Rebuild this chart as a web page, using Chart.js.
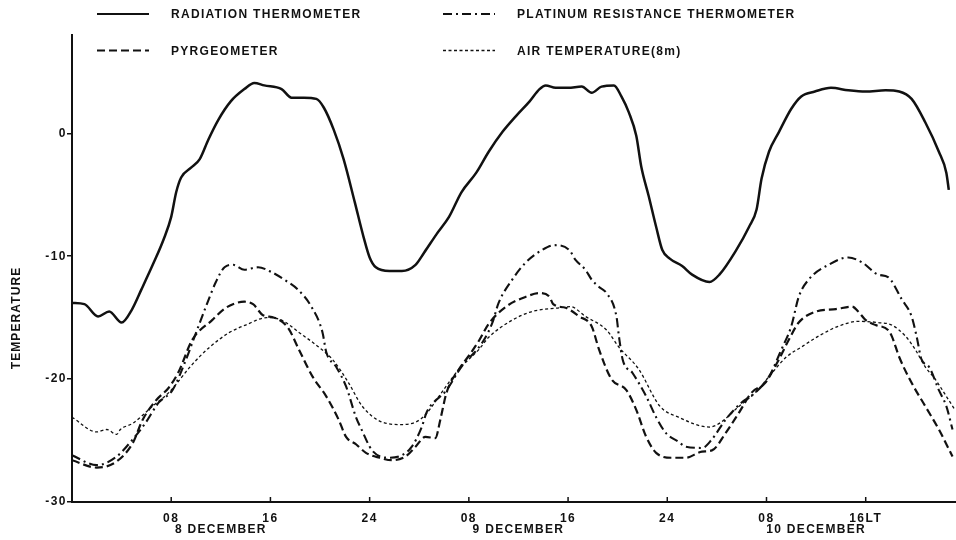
<!DOCTYPE html>
<html>
<head>
<meta charset="utf-8">
<script src="https://cdn.jsdelivr.net/npm/chart.js@4.4.1/dist/chart.umd.min.js"></script>
<style>
  html, body { margin: 0; padding: 0; background: #fff; }
  canvas { display: block; }
</style>
</head>
<body>
<canvas id="c" width="956" height="540"></canvas>
<script>
// ---- data (hours from 00 LT, 8 December; temperature in deg C) ----
const seriesLabels = ['RADIATION THERMOMETER', 'PLATINUM RESISTANCE THERMOMETER', 'PYRGEOMETER', 'AIR TEMPERATURE(8m)'];

const radHours = [0,1,2.1,3,4,4.8,5.6,6.6,7.4,8,8.4,8.8,9.6,10.3,11,11.8,12.8,13.9,14.7,15.5,16.9,17.7,18.7,19.7,20.3,21.1,21.9,22.8,23.5,24,24.5,25.6,26.6,27.7,28.4,29.4,30.4,31.4,32.6,33.6,34.7,35.8,36.9,37.7,38.2,39,40,41.1,41.9,42.7,43.7,44.3,44.9,45.5,45.9,46.5,47.1,47.6,48.2,49.2,50,51.4,52.2,53.5,54.6,55.2,55.6,56.2,57,58,58.8,59.9,61.2,62.6,64,65.6,66.7,67.7,68.8,69.9,70.5,70.7];
const radTemp = [-13.8,-13.9,-14.9,-14.5,-15.4,-14.4,-12.7,-10.5,-8.6,-6.8,-4.8,-3.6,-2.8,-2.1,-0.5,1.1,2.6,3.6,4.1,3.9,3.6,2.9,2.9,2.8,2.1,0.3,-2.1,-5.6,-8.4,-10.1,-10.9,-11.2,-11.2,-10.7,-9.7,-8.2,-6.8,-4.8,-3.2,-1.5,0.1,1.4,2.6,3.6,3.9,3.7,3.7,3.8,3.3,3.8,3.9,3.0,1.7,-0.2,-2.7,-5.1,-7.6,-9.5,-10.2,-10.8,-11.5,-12.1,-11.5,-9.6,-7.6,-6.2,-3.7,-1.5,0.1,2.0,3.0,3.4,3.7,3.5,3.4,3.5,3.4,2.8,0.9,-1.5,-3.2,-4.6];

const platHours = [0,2,3.6,4.9,5.9,7,8.1,9.2,9.9,10.8,11.6,12.3,13,13.9,15,16.1,17.1,18.2,19.3,20.2,20.5,21.3,22.1,22.9,23.3,24.2,25.6,26.6,27.4,28.2,28.6,30.2,31.4,33.1,33.9,34.4,35.5,36.6,37.9,38.9,40.1,40.6,41.4,41.9,42.5,43.1,43.9,44.1,44.4,45.2,46.3,47.1,47.9,48.9,49.5,50.8,51.6,52.7,54,55.1,56.2,57.2,58,58.6,59.4,61,62.6,63.7,65,65.8,66.9,67.7,68.1,68.5,69.1,69.9,70.5,71];
const platTemp = [-26.2,-27.0,-26.3,-24.9,-23.6,-21.9,-20.9,-18.4,-16.5,-14.1,-12.1,-10.9,-10.7,-11.1,-10.9,-11.3,-11.9,-12.7,-14.1,-16.2,-17.8,-19.0,-20.6,-23.1,-24.0,-25.8,-26.4,-26.2,-25.5,-23.9,-22.7,-20.9,-19.0,-17.0,-15.4,-13.8,-11.9,-10.5,-9.5,-9.1,-9.5,-10.3,-11.1,-11.9,-12.5,-13.0,-14.9,-16.5,-18.4,-19.5,-21.4,-23.1,-24.4,-25.1,-25.5,-25.6,-24.9,-23.3,-21.9,-21.1,-19.8,-17.6,-15.7,-13.3,-11.9,-10.7,-10.1,-10.5,-11.5,-11.7,-13.5,-14.9,-16.5,-18.4,-19.0,-20.9,-22.2,-24.1];

const pyrHours = [0,2,3.6,4.9,5.7,6.8,7.8,8.6,9.7,11.3,12.4,13.9,14.6,15.4,16.3,17.4,18.3,19.4,20.5,21.5,22.1,22.9,23.7,24.8,25.8,26.9,27.7,28.5,29.3,29.7,30.2,31.2,32,32.8,33.6,35,36.6,37.7,38.5,38.8,39.8,40.9,41.9,42.5,43.5,44.7,45.5,46.3,47.1,48.4,49.5,50.8,51.6,52.7,53.8,54.8,55.9,57,57.8,58.6,60,61.6,62.9,63.4,64,64.8,65.8,66.1,66.7,67.7,68.8,69.9,71];
const pyrTemp = [-26.6,-27.2,-26.7,-25.2,-23.3,-21.7,-20.7,-19.4,-16.8,-15.2,-14.2,-13.7,-13.9,-14.8,-15.0,-15.8,-17.6,-19.8,-21.4,-23.3,-24.7,-25.3,-26.0,-26.4,-26.6,-26.3,-25.5,-24.7,-24.8,-23.3,-21.1,-19.2,-18.1,-16.9,-15.5,-14.1,-13.3,-13.0,-13.3,-13.9,-14.2,-14.9,-15.7,-17.6,-20.0,-20.9,-22.5,-24.7,-26.0,-26.4,-26.4,-25.9,-25.8,-24.4,-22.7,-21.1,-20.3,-18.4,-16.8,-15.4,-14.5,-14.3,-14.1,-14.5,-15.2,-15.6,-16.0,-16.5,-18.2,-20.3,-22.2,-24.1,-26.3];

const airHours = [0,2,2.8,3.6,3.9,4.9,6.5,7.8,9.7,11.1,12.7,14,15.7,16.9,18.3,19.9,21,22.3,23.4,25,26.6,27.7,28.5,29.8,31.2,32.8,33.6,35.5,37.1,39.3,40.2,41.4,43.1,44.1,45.7,47.4,48.9,51.4,52.2,53.8,55.1,56.2,57.6,58.8,60.2,61.8,63.4,65,66.1,67.2,68,68.8,69.6,70.5,71.2];
const airTemp = [-23.1,-24.3,-24.1,-24.5,-24.1,-23.6,-22.2,-21.1,-18.8,-17.4,-16.2,-15.6,-15.0,-15.2,-16.2,-17.4,-18.4,-20.3,-22.2,-23.5,-23.7,-23.5,-22.9,-21.1,-19.2,-17.6,-16.6,-15.2,-14.5,-14.2,-14.1,-14.9,-16.0,-17.4,-19.2,-22.2,-23.1,-23.9,-23.6,-22.2,-21.1,-19.8,-18.2,-17.4,-16.5,-15.7,-15.3,-15.4,-15.6,-16.5,-17.6,-19.0,-20.0,-21.4,-22.5];

const tickHours = [8,16,24,32,40,48,56,64];
const tickLabels = ['08','16','24','08','16','24','08','16LT'];
const dateHours = [12,36,60];
const dateLabels = ['8 DECEMBER','9 DECEMBER','10 DECEMBER'];
const yTicks = [-30,-20,-10,0];
const yTitle = 'TEMPERATURE';

// ---- build ----
const FONT = '"Liberation Sans", Arial, Helvetica, sans-serif';
const INK = '#111';
const pts = (hs, vs) => hs.map((h, i) => ({ x: h, y: vs[i] }));

const styles = [
  { borderWidth: 2.5, borderDash: [] },
  { borderWidth: 2.1, borderDash: [9, 4, 2, 4] },
  { borderWidth: 2.2, borderDash: [8, 4] },
  { borderWidth: 1.3, borderDash: [3, 2.5] }
];
const sources = [[radHours, radTemp], [platHours, platTemp], [pyrHours, pyrTemp], [airHours, airTemp]];

const datasets = sources.map((s, i) => ({
  label: seriesLabels[i],
  data: pts(s[0], s[1]),
  borderColor: INK,
  borderWidth: styles[i].borderWidth,
  borderDash: styles[i].borderDash,
  pointRadius: 0,
  fill: false,
  tension: 0.4,
  cubicInterpolationMode: 'monotone'
}));

const decor = {
  id: 'decor',
  beforeLayout(chart) { chart.ctx.letterSpacing = '1.5px'; },
  beforeDraw(chart) { chart.ctx.letterSpacing = '1.5px'; },
  afterDraw(chart) {
    const ctx = chart.ctx;
    const xs = chart.scales.x, area = chart.chartArea;
    ctx.save();
    // inward x-axis tick marks
    ctx.strokeStyle = INK; ctx.lineWidth = 1.5; ctx.setLineDash([]);
    tickHours.forEach(h => {
      const px = xs.getPixelForValue(h);
      ctx.beginPath(); ctx.moveTo(px, area.bottom); ctx.lineTo(px, area.bottom - 5); ctx.stroke();
    });
    // date labels
    ctx.fillStyle = INK;
    ctx.font = 'bold 12px ' + FONT;
    ctx.letterSpacing = '1.3px';
    ctx.textAlign = 'center'; ctx.textBaseline = 'middle';
    dateHours.forEach((h, i) => ctx.fillText(dateLabels[i], xs.getPixelForValue(h), 530));
    // y title
    ctx.save();
    ctx.translate(17, 318); ctx.rotate(-Math.PI / 2);
    ctx.letterSpacing = '1.1px';
    ctx.fillText(yTitle, 0, 0);
    ctx.restore();
    // legend
    const slots = [[97, 14], [443, 14], [97, 50.5], [443, 50.5]];
    chart.data.datasets.forEach((ds, i) => {
      const [lx, ly] = slots[i];
      ctx.strokeStyle = INK; ctx.lineWidth = Math.min(ds.borderWidth, 2);
      ctx.setLineDash(ds.borderDash);
      ctx.beginPath(); ctx.moveTo(lx, ly); ctx.lineTo(lx + 52, ly); ctx.stroke();
      ctx.setLineDash([]);
      ctx.textAlign = 'left'; ctx.textBaseline = 'middle';
      ctx.letterSpacing = '1.3px';
      ctx.fillText(ds.label, lx + 74, ly + 1);
    });
    ctx.restore();
  }
};

new Chart(document.getElementById('c'), {
  type: 'line',
  data: { datasets },
  plugins: [decor],
  options: {
    responsive: false,
    animation: false,
    layout: { padding: { top: 35, right: 1, left: 0, bottom: 0 } },
    plugins: { legend: { display: false }, tooltip: { enabled: false } },
    scales: {
      x: {
        type: 'linear', min: 0, max: 71.2,
        afterBuildTicks: s => { s.ticks = tickHours.map(v => ({ value: v })); },
        afterFit: s => { s.height = 38; },
        ticks: {
          autoSkip: false, maxRotation: 0, padding: 9, color: INK,
          font: { family: FONT, size: 12, weight: 'bold' },
          callback: v => tickLabels[tickHours.indexOf(v)]
        },
        grid: { drawOnChartArea: false, drawTicks: false, color: INK },
        border: { color: INK, width: 2 }
      },
      y: {
        min: -30, max: 8,
        afterBuildTicks: s => { s.ticks = yTicks.map(v => ({ value: v })); },
        afterFit: s => { s.width = 72; },
        ticks: {
          padding: 0, color: INK,
          font: { family: FONT, size: 12, weight: 'bold' },
          callback: v => String(v)
        },
        grid: { drawOnChartArea: false, tickLength: 5, color: INK, lineWidth: 1.5 },
        border: { color: INK, width: 2 }
      }
    }
  }
});
</script>
</body>
</html>
